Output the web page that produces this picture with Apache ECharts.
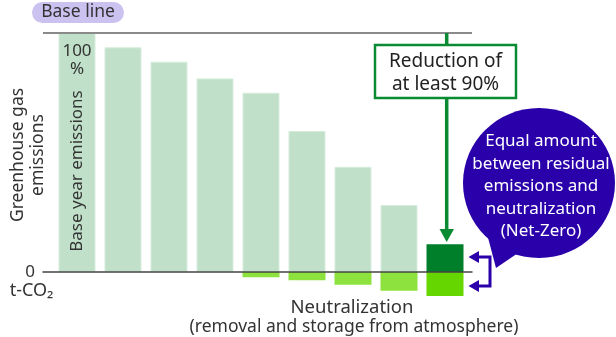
<!DOCTYPE html>
<html>
<head>
<meta charset="utf-8">
<script src="https://cdn.jsdelivr.net/npm/echarts@6/dist/echarts.min.js"></script>
<style>
  html, body { margin: 0; padding: 0; background: #fff; }
  #chart { width: 616px; height: 337px; }
</style>
</head>
<body>
<div id="chart"></div>
<script>
// stage index along the path to net-zero (0 = base year, 8 = net-zero)
const stages = [0, 1, 2, 3, 4, 5, 6, 7, 8];
// emissions in % of base year
const emissions = [100, 94, 88, 81, 75, 59, 44, 28, 11.6];
// neutralization (removal / storage), negative side
const neutralization = [0, 0, 0, 0, -2.2, -3.5, -5.3, -7.8, -10];
const baseLine = 100;

const lightGreen = "#c0e0c9";
const darkGreen = "#007f2a";
const lime = "#8ee23e";
const limeStrong = "#66d600";
const purple = "#2a00aa";
const textColor = "#333";
const font = "Noto Sans";

const chart = echarts.init(document.getElementById("chart"));

chart.setOption({
  animation: false,
  textStyle: { fontFamily: font },
  grid: { left: 43, right: 144, top: 33, height: 286.8 },
  xAxis: {
    type: "value",
    min: -0.739,
    max: 8.587,
    z: 5,
    axisLine: { show: true, onZero: true, lineStyle: { color: "#444", width: 1.5 } },
    axisTick: { show: false },
    axisLabel: { show: false },
    splitLine: { show: false },
  },
  yAxis: {
    type: "value",
    min: -20,
    max: 100,
    interval: 20,
    axisLine: { show: false },
    axisTick: { show: false },
    splitLine: { show: false },
    axisLabel: {
      margin: 8,
      fontSize: 17,
      color: textColor,
      fontFamily: font,
      formatter: (v) => (v === 0 ? "0" : ""),
    },
  },
  series: [
    {
      name: "emissions",
      type: "bar",
      stack: "total",
      barWidth: 37,
      itemStyle: { color: lightGreen, borderColor: "#d6eddc", borderWidth: 1 },
      data: stages.map((s, i) => {
        const item = { value: [s, emissions[i]] };
        if (i === 0) {
          item.label = {
            show: true,
            position: "insideTop",
            distance: 9,
            formatter: "100\n%",
            fontSize: 17,
            lineHeight: 18,
            color: textColor,
            fontFamily: font,
          };
        }
        if (i === stages.length - 1) {
          item.itemStyle = { color: darkGreen, borderWidth: 0 };
        }
        return item;
      }),
      markLine: {
        silent: true,
        symbol: "none",
        label: { show: false },
        lineStyle: { color: "#8a8a8a", width: 2, type: "solid" },
        data: [{ yAxis: baseLine }],
      },
    },
    {
      name: "neutralization",
      type: "bar",
      stack: "total",
      barWidth: 37,
      itemStyle: { color: lime },
      data: stages.map((s, i) => {
        const item = { value: [s, neutralization[i]] };
        if (i === stages.length - 1) item.itemStyle = { color: limeStrong };
        return item;
      }),
    },
  ],
  graphic: [
    // "Base line" pill
    { type: "rect", shape: { x: 32, y: 2, width: 92, height: 21, r: 10.5 }, style: { fill: "#cbc2ef" } },
    { type: "text", x: 78, y: 12.5, style: { text: "Base line", fontSize: 17.5, fontFamily: font, fill: textColor, align: "center", verticalAlign: "middle" } },
    // y axis title
    {
      type: "text", x: 28, y: 155, rotation: Math.PI / 2,
      style: { text: "Greenhouse gas\nemissions", fontSize: 17.5, lineHeight: 20, fontFamily: font, fill: textColor, align: "center", verticalAlign: "middle" },
    },
    { type: "text", x: 31.5, y: 291, style: { text: "t-CO₂", fontSize: 18, fontFamily: font, fill: textColor, align: "center", verticalAlign: "middle" } },
    // label inside base-year bar
    {
      type: "text", x: 77, y: 171, rotation: Math.PI / 2, z: 10,
      style: { text: "Base year emissions", fontSize: 17, fontFamily: font, fill: textColor, align: "center", verticalAlign: "middle" },
    },
    // green reduction arrow
    { type: "line", z: 8, shape: { x1: 446.7, y1: 33, x2: 446.7, y2: 231 }, style: { stroke: "#0a8a32", lineWidth: 3.5 } },
    { type: "polygon", z: 8, shape: { points: [[439.5, 229], [454, 229], [446.7, 242]] }, style: { fill: "#0a8a32" } },
    { type: "rect", z: 9, shape: { x: 375, y: 45, width: 141, height: 53 }, style: { fill: "#fff", stroke: "#0a8a32", lineWidth: 2.5 } },
    {
      type: "text", x: 445.5, y: 73, z: 10,
      style: { text: "Reduction of\nat least 90%", fontSize: 19, lineHeight: 23, fontFamily: font, fill: "#222", align: "center", verticalAlign: "middle" },
    },
    // net-zero speech bubble
    { type: "polygon", z: 8, shape: { points: [[486, 230], [518, 253], [496, 268]] }, style: { fill: purple } },
    { type: "ellipse", z: 8, shape: { cx: 539, cy: 183, rx: 76, ry: 75 }, style: { fill: purple } },
    {
      type: "text", x: 541, y: 186.5, z: 10,
      style: {
        text: "Equal amount\nbetween residual\nemissions and\nneutralization\n(Net-Zero)",
        fontSize: 17, lineHeight: 22.5, fontFamily: font, fill: "#fff", align: "center", verticalAlign: "middle",
      },
    },
    // equality bracket
    { type: "polyline", z: 8, shape: { points: [[476, 257], [490, 257], [490, 286], [476, 286]] }, style: { stroke: purple, lineWidth: 3, fill: null } },
    { type: "polygon", z: 8, shape: { points: [[468.5, 257], [479, 251], [479, 263]] }, style: { fill: purple } },
    { type: "polygon", z: 8, shape: { points: [[468.5, 286], [479, 280], [479, 292]] }, style: { fill: purple } },
    // neutralization caption
    { type: "text", x: 352, y: 308, style: { text: "Neutralization", fontSize: 18.5, fontFamily: font, fill: textColor, align: "center", verticalAlign: "middle" } },
    { type: "text", x: 354, y: 327, style: { text: "(removal and storage from atmosphere)", fontSize: 17.5, fontFamily: font, fill: textColor, align: "center", verticalAlign: "middle" } },
  ],
});
</script>
</body>
</html>
